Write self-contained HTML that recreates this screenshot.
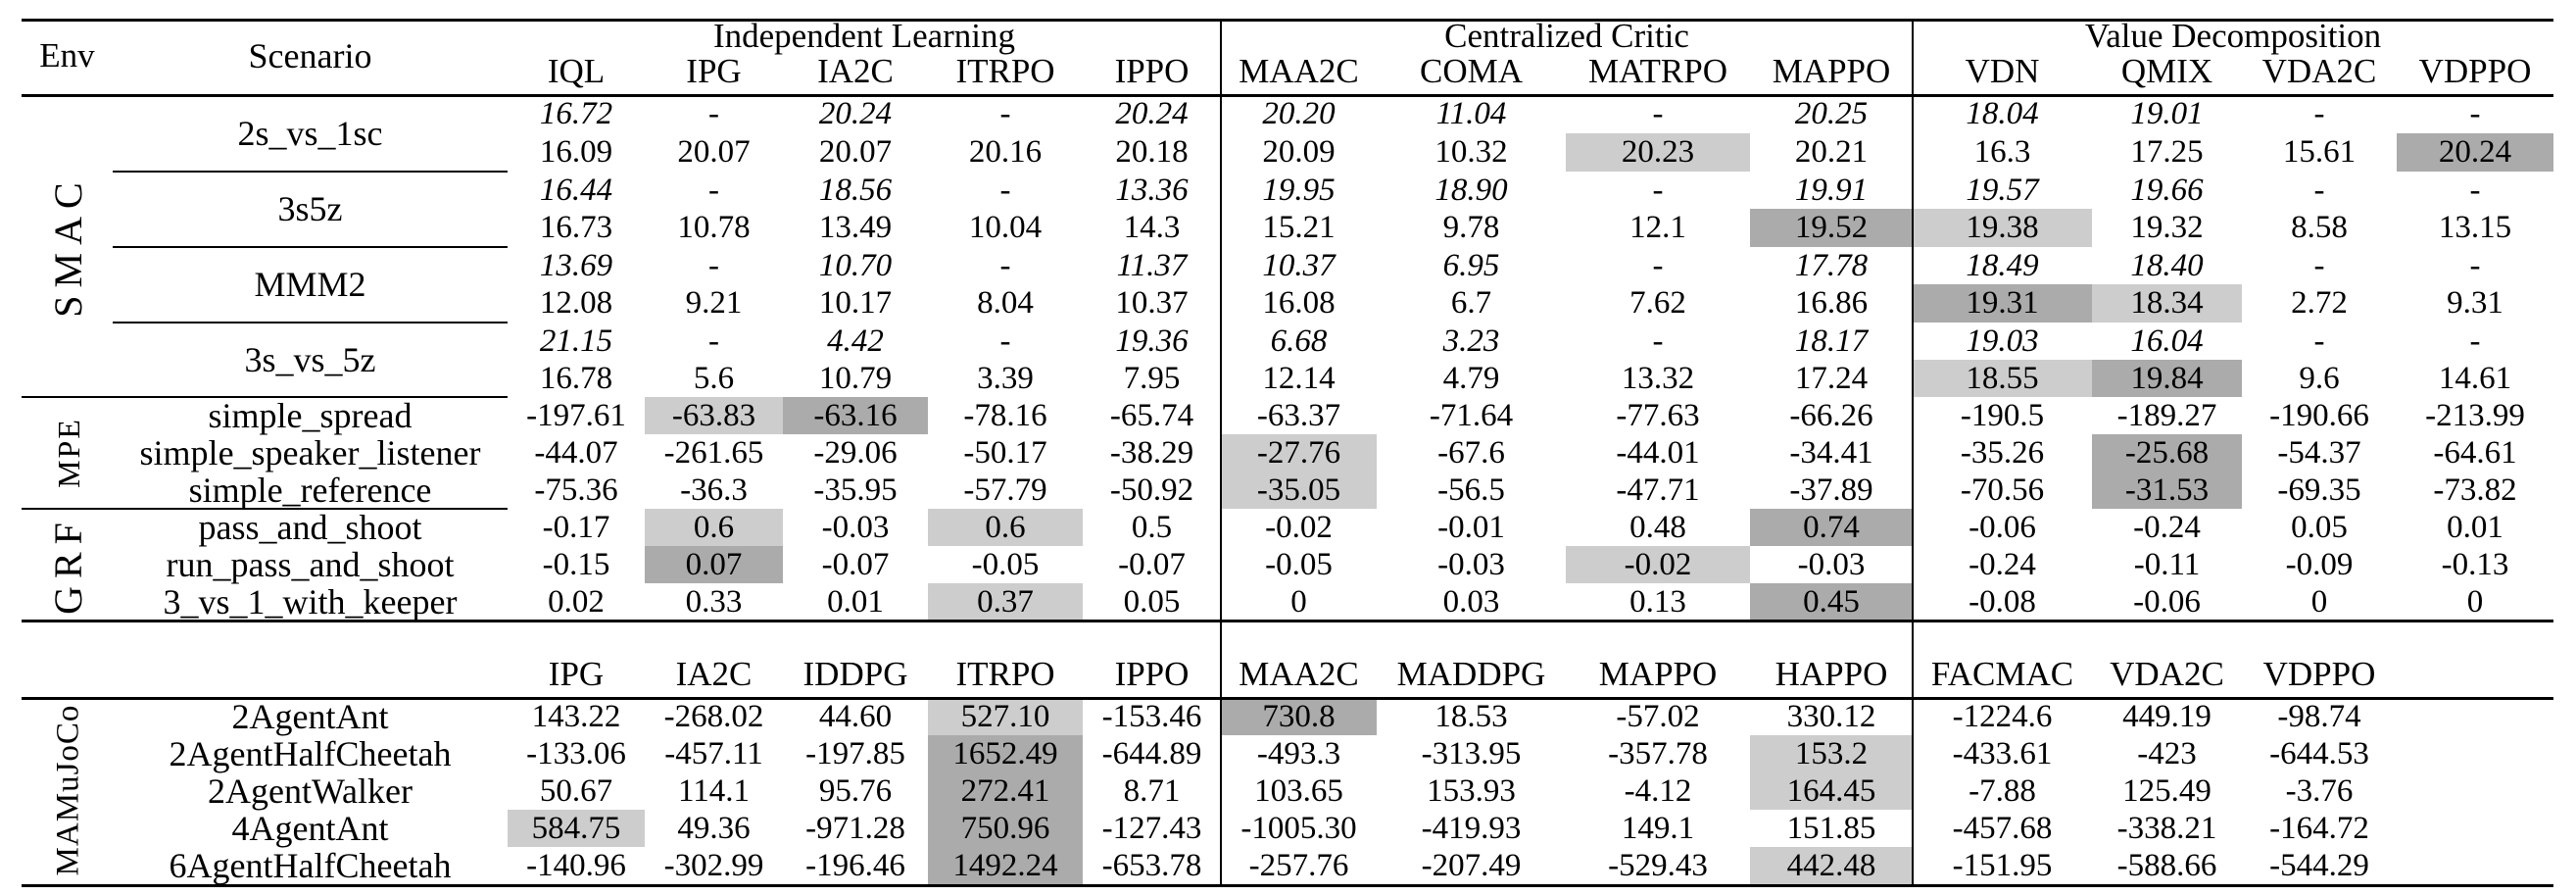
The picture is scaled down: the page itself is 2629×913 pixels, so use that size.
<!DOCTYPE html>
<html><head><meta charset="utf-8"><style>
body{margin:0;background:#fff;}
#w{position:relative;width:2629px;height:913px;overflow:hidden;background:#fff;font-family:"Liberation Serif",serif;font-size:33px;color:#000;}
.r{position:absolute;left:0;width:2629px;height:38px;line-height:38px;}
.r span{position:absolute;top:0;height:100%;text-align:center;white-space:nowrap;}
.hd span{font-size:35px;}
.i span{font-style:italic;}
.r span.sc{left:115px;width:403px;font-size:36px;}
.a{left:518px;width:140px}.b{left:658px;width:141px}.c{left:799px;width:148px}.d{left:947px;width:158px}.e{left:1105px;width:141px}
.f{left:1246px;width:159px}.g{left:1405px;width:193px}.h{left:1598px;width:188px}.k{left:1786px;width:166px}
.l{left:1952px;width:183px}.m{left:2135px;width:153px}.n{left:2288px;width:158px}.o{left:2446px;width:160px}
.L{background:#cdcdcd}.D{background:#ababab}
.hl{position:absolute;background:#000;}
.env{position:absolute;left:70px;transform:translate(-50%,-50%) rotate(-90deg);font-size:40px;letter-spacing:8px;white-space:nowrap;line-height:1;}
</style></head><body><div id="w">
<div style="position:absolute;left:1598px;top:136px;width:188px;height:39px" class="L"></div>
<div style="position:absolute;left:2446px;top:136px;width:160px;height:39px" class="D"></div>
<div style="position:absolute;left:1786px;top:213px;width:166px;height:39px" class="D"></div>
<div style="position:absolute;left:1952px;top:213px;width:183px;height:39px" class="L"></div>
<div style="position:absolute;left:1952px;top:290px;width:183px;height:39px" class="D"></div>
<div style="position:absolute;left:2135px;top:290px;width:153px;height:39px" class="L"></div>
<div style="position:absolute;left:1952px;top:367px;width:183px;height:38px" class="L"></div>
<div style="position:absolute;left:2135px;top:367px;width:153px;height:38px" class="D"></div>
<div style="position:absolute;left:658px;top:405px;width:141px;height:38px" class="L"></div>
<div style="position:absolute;left:799px;top:405px;width:148px;height:38px" class="D"></div>
<div style="position:absolute;left:1246px;top:443px;width:159px;height:76px" class="L"></div>
<div style="position:absolute;left:2135px;top:443px;width:153px;height:76px" class="D"></div>
<div style="position:absolute;left:658px;top:519px;width:141px;height:38px" class="L"></div>
<div style="position:absolute;left:947px;top:519px;width:158px;height:38px" class="L"></div>
<div style="position:absolute;left:1786px;top:519px;width:166px;height:38px" class="D"></div>
<div style="position:absolute;left:658px;top:557px;width:141px;height:38px" class="D"></div>
<div style="position:absolute;left:1598px;top:557px;width:188px;height:38px" class="L"></div>
<div style="position:absolute;left:947px;top:595px;width:158px;height:38px" class="L"></div>
<div style="position:absolute;left:1786px;top:595px;width:166px;height:38px" class="D"></div>
<div style="position:absolute;left:947px;top:712px;width:158px;height:38px" class="L"></div>
<div style="position:absolute;left:947px;top:750px;width:158px;height:152px" class="D"></div>
<div style="position:absolute;left:518px;top:826px;width:140px;height:38px" class="L"></div>
<div style="position:absolute;left:1246px;top:712px;width:159px;height:38px" class="D"></div>
<div style="position:absolute;left:1786px;top:750px;width:166px;height:76px" class="L"></div>
<div style="position:absolute;left:1786px;top:864px;width:166px;height:38px" class="L"></div>
<div class="hl" style="left:22px;top:19px;width:2584px;height:3px"></div>
<div class="hl" style="left:22px;top:96px;width:2584px;height:3px"></div>
<div class="hl" style="left:115px;top:174px;width:403px;height:2px"></div>
<div class="hl" style="left:115px;top:251px;width:403px;height:2px"></div>
<div class="hl" style="left:115px;top:328px;width:403px;height:2px"></div>
<div class="hl" style="left:22px;top:404px;width:496px;height:2px"></div>
<div class="hl" style="left:22px;top:518px;width:496px;height:2px"></div>
<div class="hl" style="left:22px;top:632px;width:2584px;height:3px"></div>
<div class="hl" style="left:22px;top:711px;width:2584px;height:3px"></div>
<div class="hl" style="left:22px;top:902px;width:2584px;height:3px"></div>
<div class="hl" style="left:1245px;top:20px;width:2px;height:883px"></div>
<div class="hl" style="left:1951px;top:20px;width:2px;height:883px"></div>
<div class="env" style="top:251px">SMAC</div>
<div class="env" style="top:462px;font-size:32px;letter-spacing:2px">MPE</div>
<div class="env" style="top:576px">GRF</div>
<div class="env" style="top:806px;font-size:33px;letter-spacing:1px">MAMuJoCo</div>
<div class="r hd" style="top:18px"><span style="left:22px;width:93px;top:20px">Env</span><span class="sc" style="top:20px">Scenario</span>
<span style="left:518px;width:728px">Independent Learning</span><span style="left:1246px;width:706px">Centralized Critic</span><span style="left:1952px;width:654px">Value Decomposition</span></div>
<div class="r hd" style="top:54px"><span class="a">IQL</span><span class="b">IPG</span><span class="c">IA2C</span><span class="d">ITRPO</span><span class="e">IPPO</span><span class="f">MAA2C</span><span class="g">COMA</span><span class="h">MATRPO</span><span class="k">MAPPO</span><span class="l">VDN</span><span class="m">QMIX</span><span class="n">VDA2C</span><span class="o">VDPPO</span></div>
<div class="r i" style="top:97px"><span class="a">16.72</span><span class="b">-</span><span class="c">20.24</span><span class="d">-</span><span class="e">20.24</span><span class="f">20.20</span><span class="g">11.04</span><span class="h">-</span><span class="k">20.25</span><span class="l">18.04</span><span class="m">19.01</span><span class="n">-</span><span class="o">-</span></div>
<div class="r" style="top:136px"><span class="sc" style="top:-38px;height:77px;line-height:77px">2s_vs_1sc</span><span class="a">16.09</span><span class="b">20.07</span><span class="c">20.07</span><span class="d">20.16</span><span class="e">20.18</span><span class="f">20.09</span><span class="g">10.32</span><span class="h">20.23</span><span class="k">20.21</span><span class="l">16.3</span><span class="m">17.25</span><span class="n">15.61</span><span class="o">20.24</span></div>
<div class="r i" style="top:175px"><span class="a">16.44</span><span class="b">-</span><span class="c">18.56</span><span class="d">-</span><span class="e">13.36</span><span class="f">19.95</span><span class="g">18.90</span><span class="h">-</span><span class="k">19.91</span><span class="l">19.57</span><span class="m">19.66</span><span class="n">-</span><span class="o">-</span></div>
<div class="r" style="top:213px"><span class="sc" style="top:-38px;height:77px;line-height:77px">3s5z</span><span class="a">16.73</span><span class="b">10.78</span><span class="c">13.49</span><span class="d">10.04</span><span class="e">14.3</span><span class="f">15.21</span><span class="g">9.78</span><span class="h">12.1</span><span class="k">19.52</span><span class="l">19.38</span><span class="m">19.32</span><span class="n">8.58</span><span class="o">13.15</span></div>
<div class="r i" style="top:252px"><span class="a">13.69</span><span class="b">-</span><span class="c">10.70</span><span class="d">-</span><span class="e">11.37</span><span class="f">10.37</span><span class="g">6.95</span><span class="h">-</span><span class="k">17.78</span><span class="l">18.49</span><span class="m">18.40</span><span class="n">-</span><span class="o">-</span></div>
<div class="r" style="top:290px"><span class="sc" style="top:-38px;height:77px;line-height:77px">MMM2</span><span class="a">12.08</span><span class="b">9.21</span><span class="c">10.17</span><span class="d">8.04</span><span class="e">10.37</span><span class="f">16.08</span><span class="g">6.7</span><span class="h">7.62</span><span class="k">16.86</span><span class="l">19.31</span><span class="m">18.34</span><span class="n">2.72</span><span class="o">9.31</span></div>
<div class="r i" style="top:329px"><span class="a">21.15</span><span class="b">-</span><span class="c">4.42</span><span class="d">-</span><span class="e">19.36</span><span class="f">6.68</span><span class="g">3.23</span><span class="h">-</span><span class="k">18.17</span><span class="l">19.03</span><span class="m">16.04</span><span class="n">-</span><span class="o">-</span></div>
<div class="r" style="top:367px"><span class="sc" style="top:-38px;height:77px;line-height:77px">3s_vs_5z</span><span class="a">16.78</span><span class="b">5.6</span><span class="c">10.79</span><span class="d">3.39</span><span class="e">7.95</span><span class="f">12.14</span><span class="g">4.79</span><span class="h">13.32</span><span class="k">17.24</span><span class="l">18.55</span><span class="m">19.84</span><span class="n">9.6</span><span class="o">14.61</span></div>
<div class="r" style="top:405px"><span class="sc">simple_spread</span><span class="a">-197.61</span><span class="b">-63.83</span><span class="c">-63.16</span><span class="d">-78.16</span><span class="e">-65.74</span><span class="f">-63.37</span><span class="g">-71.64</span><span class="h">-77.63</span><span class="k">-66.26</span><span class="l">-190.5</span><span class="m">-189.27</span><span class="n">-190.66</span><span class="o">-213.99</span></div>
<div class="r" style="top:443px"><span class="sc">simple_speaker_listener</span><span class="a">-44.07</span><span class="b">-261.65</span><span class="c">-29.06</span><span class="d">-50.17</span><span class="e">-38.29</span><span class="f">-27.76</span><span class="g">-67.6</span><span class="h">-44.01</span><span class="k">-34.41</span><span class="l">-35.26</span><span class="m">-25.68</span><span class="n">-54.37</span><span class="o">-64.61</span></div>
<div class="r" style="top:481px"><span class="sc">simple_reference</span><span class="a">-75.36</span><span class="b">-36.3</span><span class="c">-35.95</span><span class="d">-57.79</span><span class="e">-50.92</span><span class="f">-35.05</span><span class="g">-56.5</span><span class="h">-47.71</span><span class="k">-37.89</span><span class="l">-70.56</span><span class="m">-31.53</span><span class="n">-69.35</span><span class="o">-73.82</span></div>
<div class="r" style="top:519px"><span class="sc">pass_and_shoot</span><span class="a">-0.17</span><span class="b">0.6</span><span class="c">-0.03</span><span class="d">0.6</span><span class="e">0.5</span><span class="f">-0.02</span><span class="g">-0.01</span><span class="h">0.48</span><span class="k">0.74</span><span class="l">-0.06</span><span class="m">-0.24</span><span class="n">0.05</span><span class="o">0.01</span></div>
<div class="r" style="top:557px"><span class="sc">run_pass_and_shoot</span><span class="a">-0.15</span><span class="b">0.07</span><span class="c">-0.07</span><span class="d">-0.05</span><span class="e">-0.07</span><span class="f">-0.05</span><span class="g">-0.03</span><span class="h">-0.02</span><span class="k">-0.03</span><span class="l">-0.24</span><span class="m">-0.11</span><span class="n">-0.09</span><span class="o">-0.13</span></div>
<div class="r" style="top:595px"><span class="sc">3_vs_1_with_keeper</span><span class="a">0.02</span><span class="b">0.33</span><span class="c">0.01</span><span class="d">0.37</span><span class="e">0.05</span><span class="f">0</span><span class="g">0.03</span><span class="h">0.13</span><span class="k">0.45</span><span class="l">-0.08</span><span class="m">-0.06</span><span class="n">0</span><span class="o">0</span></div>
<div class="r hd" style="top:669px"><span class="a">IPG</span><span class="b">IA2C</span><span class="c">IDDPG</span><span class="d">ITRPO</span><span class="e">IPPO</span><span class="f">MAA2C</span><span class="g">MADDPG</span><span class="h">MAPPO</span><span class="k">HAPPO</span><span class="l">FACMAC</span><span class="m">VDA2C</span><span class="n">VDPPO</span></div>
<div class="r" style="top:712px"><span class="sc">2AgentAnt</span><span class="a">143.22</span><span class="b">-268.02</span><span class="c">44.60</span><span class="d">527.10</span><span class="e">-153.46</span><span class="f">730.8</span><span class="g">18.53</span><span class="h">-57.02</span><span class="k">330.12</span><span class="l">-1224.6</span><span class="m">449.19</span><span class="n">-98.74</span></div>
<div class="r" style="top:750px"><span class="sc">2AgentHalfCheetah</span><span class="a">-133.06</span><span class="b">-457.11</span><span class="c">-197.85</span><span class="d">1652.49</span><span class="e">-644.89</span><span class="f">-493.3</span><span class="g">-313.95</span><span class="h">-357.78</span><span class="k">153.2</span><span class="l">-433.61</span><span class="m">-423</span><span class="n">-644.53</span></div>
<div class="r" style="top:788px"><span class="sc">2AgentWalker</span><span class="a">50.67</span><span class="b">114.1</span><span class="c">95.76</span><span class="d">272.41</span><span class="e">8.71</span><span class="f">103.65</span><span class="g">153.93</span><span class="h">-4.12</span><span class="k">164.45</span><span class="l">-7.88</span><span class="m">125.49</span><span class="n">-3.76</span></div>
<div class="r" style="top:826px"><span class="sc">4AgentAnt</span><span class="a">584.75</span><span class="b">49.36</span><span class="c">-971.28</span><span class="d">750.96</span><span class="e">-127.43</span><span class="f">-1005.30</span><span class="g">-419.93</span><span class="h">149.1</span><span class="k">151.85</span><span class="l">-457.68</span><span class="m">-338.21</span><span class="n">-164.72</span></div>
<div class="r" style="top:864px"><span class="sc">6AgentHalfCheetah</span><span class="a">-140.96</span><span class="b">-302.99</span><span class="c">-196.46</span><span class="d">1492.24</span><span class="e">-653.78</span><span class="f">-257.76</span><span class="g">-207.49</span><span class="h">-529.43</span><span class="k">442.48</span><span class="l">-151.95</span><span class="m">-588.66</span><span class="n">-544.29</span></div>
</div></body></html>
